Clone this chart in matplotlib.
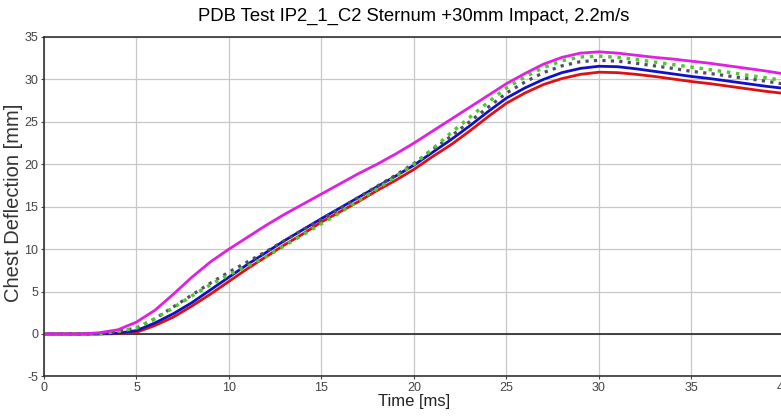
import matplotlib.pyplot as plt
import numpy as np

plt.rcParams["font.family"] = ["Liberation Sans", "DejaVu Sans"]
plt.rcParams["axes.unicode_minus"] = False

time_ms = np.arange(0, 41)

magenta = [0, 0, 0, 0.15, 0.5, 1.4, 2.8, 4.7, 6.7, 8.5, 10.0, 11.4, 12.8, 14.1, 15.3, 16.5,
           17.7, 18.9, 20.0, 21.2, 22.5, 23.9, 25.3, 26.7, 28.1, 29.5, 30.7, 31.8, 32.6, 33.1,
           33.25, 33.1, 32.85, 32.6, 32.4, 32.15, 31.9, 31.6, 31.3, 31.0, 30.65]
green = [0, 0, 0, 0.05, 0.3, 0.7, 1.8, 3.1, 4.5, 5.8, 7.0, 8.0, 9.1, 10.4, 11.7, 13.0,
         14.3, 15.7, 17.1, 18.5, 20.0, 21.8, 23.7, 25.5, 27.3, 29.0, 30.3, 31.4, 32.2, 32.65,
         32.75, 32.6, 32.35, 32.05, 31.75, 31.45, 31.15, 30.85, 30.5, 30.2, 29.85]
gray = [0, 0, 0, 0.05, 0.3, 0.7, 1.8, 3.2, 4.6, 6.0, 7.3, 8.5, 9.7, 11.0, 12.3, 13.5,
        14.8, 16.1, 17.4, 18.7, 20.1, 21.7, 23.3, 25.0, 26.7, 28.4, 29.7, 30.8, 31.6, 32.1,
        32.25, 32.15, 31.9, 31.6, 31.3, 30.95, 30.7, 30.4, 30.1, 29.8, 29.45]
blue = [0, 0, 0, 0.02, 0.1, 0.4, 1.3, 2.4, 3.7, 5.2, 6.7, 8.2, 9.6, 11.0, 12.3, 13.6,
        14.85, 16.1, 17.35, 18.6, 19.9, 21.4, 22.9, 24.5, 26.2, 27.8, 29.0, 30.0, 30.8, 31.3,
        31.55, 31.5, 31.25, 30.95, 30.65, 30.35, 30.1, 29.8, 29.5, 29.2, 28.95]
red = [0, 0, 0, 0.0, 0.05, 0.2, 1.0, 2.0, 3.3, 4.7, 6.2, 7.7, 9.1, 10.5, 11.8, 13.2,
       14.4, 15.6, 16.9, 18.1, 19.4, 20.9, 22.3, 23.9, 25.6, 27.2, 28.4, 29.4, 30.1, 30.6,
       30.85, 30.8, 30.6, 30.35, 30.05, 29.75, 29.5, 29.2, 28.9, 28.6, 28.35]

fig = plt.figure(figsize=(7.81, 4.18), dpi=100)
ax = fig.add_axes([0.0563, 0.0995, 0.9475, 0.812])

ax.plot(time_ms, red, color="#e01010", lw=2.0)
ax.plot(time_ms, blue, color="#1010c8", lw=2.0)
ax.plot(time_ms, gray, color="#505060", lw=2.3, ls=":")
ax.plot(time_ms, green, color="#50c830", lw=2.5, ls=":")
ax.plot(time_ms, magenta, color="#e020e0", lw=2.0)

ax.axhline(0, color="#333333", lw=1.3, zorder=1)
ax.set_xlim(0, 40)
ax.set_ylim(-5, 35)
ax.set_xticks(np.arange(0, 41, 5))
ax.set_yticks(np.arange(-5, 36, 5))
ax.grid(True, color="#c8c8c8", lw=0.9)
ax.set_axisbelow(True)
ax.tick_params(labelsize=9, colors="#444444", length=2.5, width=0.8, pad=1.5)
for s in ax.spines.values():
    s.set_color("#333333")
    s.set_linewidth(1.2)

ax.set_title("PDB Test IP2_1_C2 Sternum +30mm Impact, 2.2m/s", fontsize=13.3, pad=12)
ax.set_xlabel("Time [ms]", fontsize=12, labelpad=0, color="#222222")
ax.set_ylabel("Chest Deflection [mm]", fontsize=14.5, color="#333333")
ax.yaxis.set_label_coords(-0.029, 0.51)

fig.savefig("out.png", dpi=100)
